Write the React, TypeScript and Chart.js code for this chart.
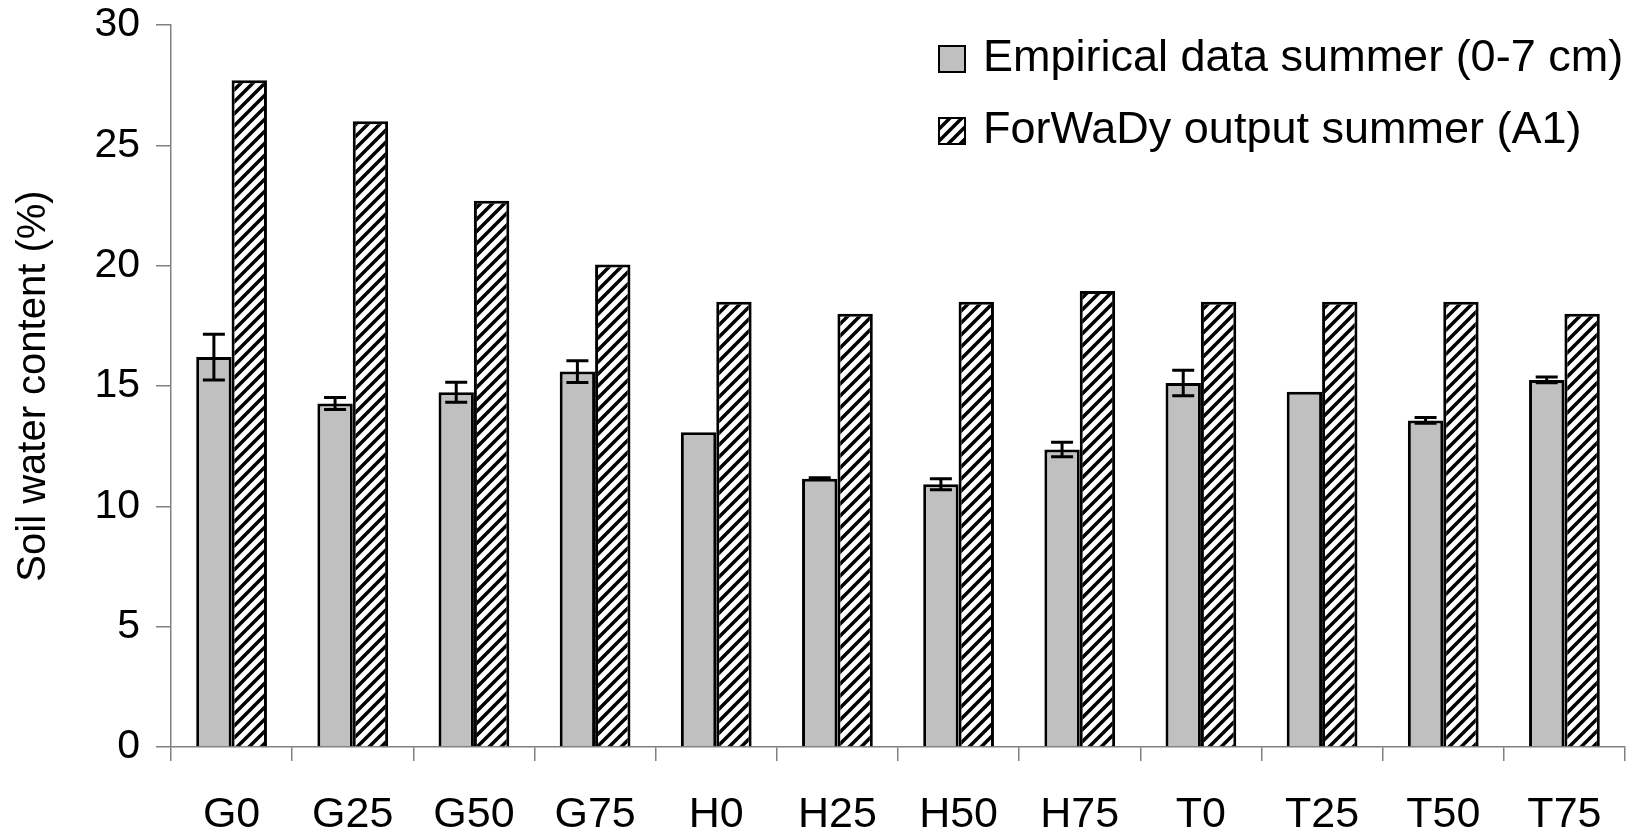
import React, { useEffect, useRef } from 'react';
import { Chart, registerables } from 'chart.js';

Chart.register(...registerables);

// ---------- data ----------
const categories = ['G0', 'G25', 'G50', 'G75', 'H0', 'H25', 'H50', 'H75', 'T0', 'T25', 'T50', 'T75'];
const empiricalValues = [16.2, 14.27, 14.74, 15.6, 13.08, 11.15, 10.92, 12.36, 15.12, 14.76, 13.57, 15.25];
const empiricalErrors = [0.95, 0.25, 0.42, 0.45, 0, 0.04, 0.23, 0.3, 0.53, 0, 0.12, 0.12];
const forwadyValues = [27.7, 26.0, 22.7, 20.05, 18.5, 18.0, 18.5, 18.95, 18.5, 18.5, 18.5, 18.0];
const seriesLabels = ['Empirical data summer (0-7 cm)', 'ForWaDy output summer (A1)'];
const yTicks = [0, 5, 10, 15, 20, 25, 30];
const yTitle = 'Soil water content (%)';

const FONT = '"Liberation Sans", Arial, Helvetica, sans-serif';
const GRAY = '#C0C0C0';
const AXIS = '#808080';

function makeHatch(): CanvasPattern | string {
  const s = 12;
  const c = document.createElement('canvas');
  c.width = s;
  c.height = s;
  const g = c.getContext('2d');
  if (!g) return '#fff';
  g.fillStyle = '#fff';
  g.fillRect(0, 0, s, s);
  g.strokeStyle = '#000';
  g.lineWidth = 3.5;
  g.beginPath();
  for (const k of [-s, 0, s]) {
    g.moveTo(k - 2, s + 2);
    g.lineTo(k + s + 2, -2);
  }
  g.stroke();
  const p = g.createPattern(c, 'repeat');
  return p || '#fff';
}

const errorBarPlugin = {
  id: 'errorBars',
  afterDatasetsDraw(chart: any) {
    const meta = chart.getDatasetMeta(0);
    const y = chart.scales.y;
    const ctx = chart.ctx;
    ctx.save();
    ctx.strokeStyle = '#000';
    ctx.lineWidth = 3;
    meta.data.forEach((el: any, i: number) => {
      const e = empiricalErrors[i];
      if (!e) return;
      const v = empiricalValues[i];
      const yt = y.getPixelForValue(v + e);
      const yb = y.getPixelForValue(v - e);
      const x = el.x;
      const half = 11;
      ctx.beginPath();
      ctx.moveTo(x, yt);
      ctx.lineTo(x, yb);
      ctx.moveTo(x - half, yt);
      ctx.lineTo(x + half, yt);
      ctx.moveTo(x - half, yb);
      ctx.lineTo(x + half, yb);
      ctx.stroke();
    });
    ctx.restore();
  },
};

const legendPlugin = {
  id: 'insideLegend',
  afterDraw(chart: any) {
    const ctx = chart.ctx;
    const ds = chart.data.datasets;
    const boxX = 938;
    const size = 28;
    const rowTops = [45, 117];
    const textX = 983;
    ctx.save();
    ds.forEach((d: any, i: number) => {
      const top = rowTops[i];
      ctx.fillStyle = d.backgroundColor;
      ctx.fillRect(boxX, top, size, size);
      ctx.strokeStyle = '#000';
      ctx.lineWidth = 2;
      ctx.strokeRect(boxX + 1, top + 1, size - 2, size - 2);
      ctx.fillStyle = '#000';
      ctx.font = `45px ${FONT}`;
      ctx.textAlign = 'left';
      ctx.textBaseline = 'middle';
      ctx.fillText(d.label, textX, top + size / 2);
    });
    ctx.restore();
  },
};

export default function App() {
  const ref = useRef<HTMLCanvasElement>(null);

  useEffect(() => {
    if (!ref.current) return;
    const hatch = makeHatch();
    const chart = new Chart(ref.current, {
      type: 'bar',
      data: {
        labels: categories,
        datasets: [
          {
            label: seriesLabels[0],
            data: empiricalValues,
            backgroundColor: GRAY,
            borderColor: '#000',
            borderWidth: 3,
            categoryPercentage: 0.584,
            barPercentage: 1,
          },
          {
            label: seriesLabels[1],
            data: forwadyValues,
            backgroundColor: hatch as any,
            borderColor: '#000',
            borderWidth: 3,
            categoryPercentage: 0.584,
            barPercentage: 1,
          },
        ],
      },
      options: {
        responsive: false,
        animation: false,
        devicePixelRatio: 1,
        layout: { padding: { left: 0, right: 14, top: 25, bottom: 0 } },
        plugins: {
          legend: { display: false },
          tooltip: { enabled: false },
          title: { display: false },
        },
        scales: {
          x: {
            grid: {
              offset: true,
              drawOnChartArea: false,
              drawTicks: true,
              tickLength: 14,
              color: AXIS,
              lineWidth: 1.5,
            },
            border: { color: AXIS, width: 1.5 },
            ticks: {
              color: '#000',
              font: { family: FONT, size: 43 },
              padding: 28,
              maxRotation: 0,
              autoSkip: false,
            },
            afterFit(scale: any) {
              scale.height = 86;
              scale.paddingLeft = 0;
              scale.paddingRight = 0;
            },
          },
          y: {
            min: yTicks[0],
            max: yTicks[yTicks.length - 1],
            afterBuildTicks(scale: any) {
              scale.ticks = yTicks.map((v) => ({ value: v }));
            },
            grid: {
              drawOnChartArea: false,
              drawTicks: true,
              tickLength: 15,
              color: AXIS,
              lineWidth: 1.5,
            },
            border: { color: AXIS, width: 1.5 },
            ticks: {
              color: '#000',
              font: { family: FONT, size: 41 },
              padding: 16,
            },
            title: {
              display: true,
              text: yTitle,
              color: '#000',
              font: { family: FONT, size: 40 },
              padding: { top: 10, bottom: 0 },
            },
            afterFit(scale: any) {
              scale.width = 171;
              scale.paddingTop = 0;
              scale.paddingBottom = 0;
            },
          },
        },
      },
      plugins: [errorBarPlugin, legendPlugin],
    });
    return () => chart.destroy();
  }, []);

  return (
    <div style={{ position: 'absolute', left: 0, top: 0, width: 1639, height: 833, background: '#fff' }}>
      <canvas ref={ref} width={1639} height={833} style={{ display: 'block' }} />
    </div>
  );
}
